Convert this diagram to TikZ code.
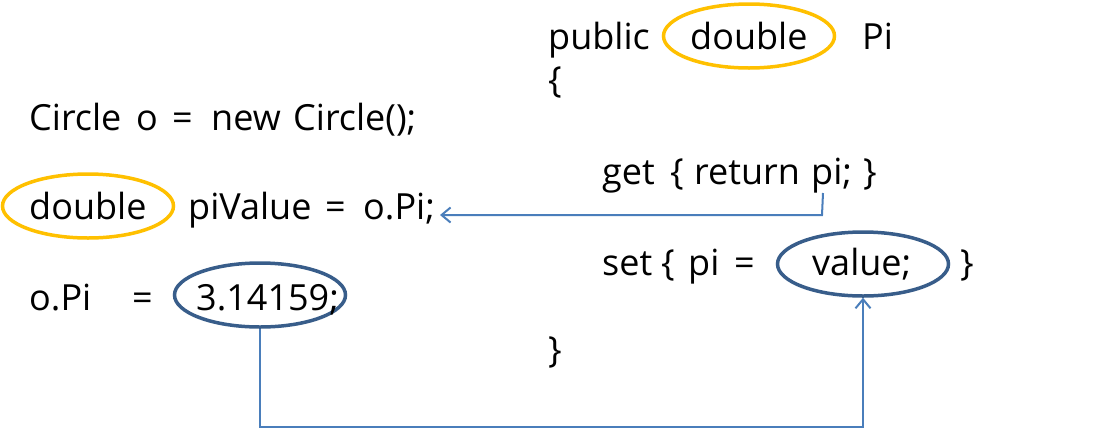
\documentclass[tikz,border=0pt]{standalone}
\usepackage{fontspec}
\setmainfont{Open Sans}
\usetikzlibrary{shapes.geometric,arrows.meta}
\definecolor{ylw}{HTML}{FFC000}
\definecolor{dblue}{HTML}{385D8A}
\definecolor{ablue}{HTML}{4A7EBB}
\tikzset{
  txt/.style={anchor=base west,inner sep=0pt,font=\fontsize{36}{43}\selectfont},
  yell/.style={ellipse,draw=ylw,line width=3.5pt,minimum width=171pt,minimum height=64pt,inner sep=0pt},
  bell/.style={ellipse,draw=dblue,line width=3.5pt,minimum width=171pt,minimum height=64pt,inner sep=0pt},
  conn/.style={draw=ablue,line width=2pt,-{Straight Barb[length=9pt,width=15pt,line width=2pt]}}
}
\begin{document}
\begin{tikzpicture}[x=1pt,y=-1pt]
\useasboundingbox (0,0) rectangle (1113,429);
% ellipses
\node[yell] (eA) at (88,206) {};
\node[bell] (eB) at (260,295) {};
\node[yell] (eC) at (749,36) {};
\node[bell] (eD) at (863,264) {};
% left code
\node[txt] (l1a) at (29,130) {Circle};
\node[txt] (l1b) at (136,130) {o};
\node[txt] (l1c) at (172,130) {=};
\node[txt] (l1d) at (211,130) {new};
\node[txt] (l1e) at (293,130) {Circle();};
\node[txt] (l2a) at (29,219) {double};
\node[txt] (l2b) at (188,219) {piValue};
\node[txt] (l2c) at (325,219) {=};
\node[txt] (l2d) at (363,219) {o.Pi;};
\node[txt] (l3a) at (29,310) {o.Pi};
\node[txt] (l3b) at (132,310) {=};
\node[txt] (l3c) at (196,310) {3.14159;};
% right code
\node[txt] (r1a) at (548,49) {public};
\node[txt] (r1b) at (690,49) {double};
\node[txt] (r1c) at (862,49) {Pi};
\node[txt] (r2) at (548,92) {\{};
\node[txt] (g1) at (602,184) {get};
\node[txt] (g2) at (670,184) {\{};
\node[txt] (g3) at (694,184) {return};
\node[txt] (g4) at (811,184) {pi;};
\node[txt] (g5) at (863,184) {\}};
\node[txt] (s1) at (602,275) {set};
\node[txt] (s2) at (661,275) {\{};
\node[txt] (s3) at (688,275) {pi};
\node[txt] (s4) at (734,275) {=};
\node[txt] (s5) at (812,275) {value;};
\node[txt] (s6) at (960,275) {\}};
\node[txt] (r3) at (548,362) {\}};
% connectors
\coordinate (cg) at (823,193);
\coordinate (ca) at (440,215);
\draw[conn] (cg) -- (822,215) -- (ca);
\draw[conn] (eB.south) -- (260,427) -| (eD.south);
\end{tikzpicture}
\end{document}
